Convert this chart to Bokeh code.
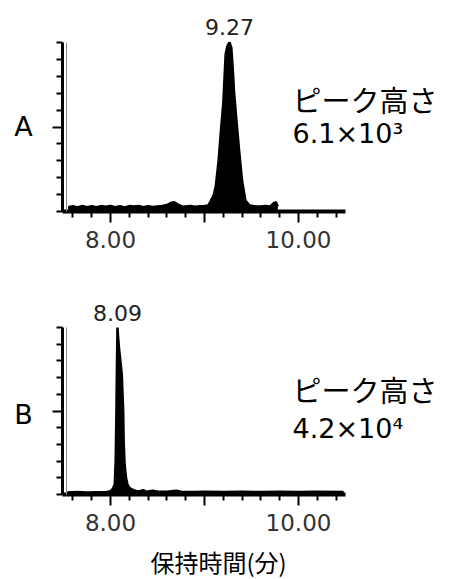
from bokeh.plotting import figure
from bokeh.models import Range1d, FixedTicker, Label, LinearAxis
from bokeh.layouts import column
from bokeh.embed import file_html
from bokeh.resources import INLINE

# ---- data (retention time in min, relative intensity in %) ----
time_a = [7.55, 7.60, 7.65, 7.70, 7.75, 7.80, 7.85, 7.90, 7.95, 8.00, 8.05, 8.10, 8.15,
          8.20, 8.25, 8.30, 8.35, 8.40, 8.45, 8.50, 8.55, 8.60, 8.64, 8.68, 8.72, 8.76,
          8.80, 8.85, 8.90, 8.95, 9.00, 9.04, 9.07, 9.10, 9.12, 9.15, 9.175, 9.20, 9.225,
          9.245, 9.266, 9.285, 9.30, 9.315, 9.34, 9.37, 9.40, 9.435, 9.48, 9.52, 9.56,
          9.60, 9.65, 9.70, 9.74, 9.76, 9.78]
inten_a = [2.5, 3.2, 2.4, 3.3, 2.6, 3.1, 2.5, 3.2, 2.8, 3.3, 2.6, 3.1, 2.4, 3.2, 2.9, 3.3,
           2.5, 3.1, 2.7, 3.0, 3.2, 3.8, 5.0, 5.5, 4.0, 3.0, 2.9, 3.2, 2.8, 3.1, 3.3, 3.5,
           6.5, 10.0, 15.0, 30.0, 48.0, 64.0, 93.0, 98.0, 100.0, 97.0, 85.0, 70.0, 54.0,
           35.0, 18.0, 6.5, 3.5, 3.2, 3.0, 2.9, 3.2, 3.0, 5.0, 5.5, 3.0]

time_b = [7.54, 7.65, 7.75, 7.85, 7.95, 8.00, 8.02, 8.045, 8.055, 8.062, 8.068, 8.074,
          8.08, 8.09, 8.105, 8.12, 8.135, 8.14, 8.15, 8.165, 8.18, 8.20, 8.23, 8.26,
          8.30, 8.35, 8.38, 8.45, 8.50, 8.60, 8.70, 8.75, 8.90, 9.00, 9.20, 9.40, 9.60,
          9.80, 10.00, 10.20, 10.48]
inten_b = [1.2, 1.5, 1.2, 1.4, 1.3, 2.0, 3.0, 6.0, 20.0, 45.0, 75.0, 100.0, 95.0, 88.0,
           80.0, 72.0, 50.0, 32.0, 18.0, 10.0, 6.0, 4.0, 3.0, 2.2, 1.8, 2.6, 1.6, 2.3,
           1.6, 1.6, 2.3, 1.6, 1.5, 1.6, 1.5, 1.6, 1.5, 1.6, 1.5, 1.6, 1.5]

peak_time_a = 9.266
peak_time_b = 8.074
peak_label_a = "9.27"
peak_label_b = "8.09"
panel_names = ["A", "B"]
height_title = "ピーク高さ"
height_values = ["6.1×10³", "4.2×10⁴"]
x_major = [8.0, 9.0, 10.0]
x_minor = [7.6, 7.8, 8.2, 8.4, 8.6, 8.8, 9.2, 9.4, 9.6, 9.8, 10.2, 10.4]
x_tick_labels = {8.0: "8.00", 9.0: "", 10.0: "10.00"}
y_major = [50]
y_minor = [0, 10, 20, 30, 40, 60, 70, 80, 90, 100]
x_title = "保持時間(分)"

NUM_FONT = "DejaVu Sans"
JP_FONT = "Noto Sans CJK JP"

W = 449
PX_PER_MIN = 94.0
X0_PX = 110.0          # pixel column of 8.00 min
X_START, X_END = 7.489, 10.5   # drawn axis extent


def make_panel(t, y, peak_t, peak_label, name, value_text, base_px, px_per_pct,
               fig_h, title_y, with_title, title_h):
    x_lo = 8.0 - X0_PX / PX_PER_MIN
    x_hi = 8.0 + (W - X0_PX) / PX_PER_MIN
    y_hi = base_px / px_per_pct
    y_lo = (base_px - fig_h) / px_per_pct
    p = figure(width=W, height=fig_h, min_border=0, title=None,
               x_range=Range1d(x_lo, x_hi), y_range=Range1d(y_lo, y_hi),
               x_axis_location=None, y_axis_location=None,
               output_backend="svg", toolbar_location=None)
    p.outline_line_color = None
    p.grid.visible = False
    p.background_fill_color = "white"
    p.border_fill_color = "white"

    # x axis
    xa = LinearAxis(fixed_location=0, bounds=(X_START, X_END))
    xa.ticker = FixedTicker(ticks=x_major, minor_ticks=x_minor)
    xa.major_label_overrides = x_tick_labels
    xa.axis_line_width = 4
    xa.axis_line_color = "black"
    xa.major_tick_out = 11
    xa.major_tick_in = 0
    xa.minor_tick_out = 6
    xa.minor_tick_in = 0
    xa.major_tick_line_width = 2
    xa.minor_tick_line_width = 2
    xa.major_label_standoff = 8
    xa.major_label_text_font = NUM_FONT
    xa.major_label_text_font_size = "23px"
    xa.major_label_text_color = "#333333"
    p.add_layout(xa, "below")

    # y axis
    ya = LinearAxis(fixed_location=X_START, bounds=(0, 100))
    ya.ticker = FixedTicker(ticks=y_major, minor_ticks=y_minor)
    ya.major_label_overrides = {50: ""}
    ya.axis_line_width = 3
    ya.axis_line_color = "black"
    ya.major_tick_out = 10
    ya.major_tick_in = 0
    ya.minor_tick_out = 6
    ya.minor_tick_in = 0
    ya.major_tick_line_width = 2
    ya.minor_tick_line_width = 2
    ya.major_label_text_font_size = "1px"
    p.add_layout(ya, "left")

    # thin grey shadow line beside the y axis
    ya2 = LinearAxis(fixed_location=X_START + 4 / PX_PER_MIN, bounds=(0, 100))
    ya2.ticker = FixedTicker(ticks=[])
    ya2.axis_line_color = "#8a8a8a"
    ya2.axis_line_width = 1
    ya2.major_tick_line_color = None
    ya2.minor_tick_line_color = None
    ya2.major_label_text_font_size = "1px"
    p.add_layout(ya2, "left")

    p.varea(x=t, y1=[0] * len(t), y2=y, fill_color="black")
    p.line(x=t, y=y, line_color="black", line_width=2.5)

    def pct(px):
        return (base_px - px) / px_per_pct

    p.add_layout(Label(x=peak_t, y=pct(title_y[0]), text=peak_label, text_align="center",
                       text_baseline="middle", text_font=NUM_FONT,
                       text_font_size="22px", text_color="#222222"))
    p.add_layout(Label(x=8.0 + (23 - X0_PX) / PX_PER_MIN, y=pct(title_y[1]), text=name,
                       text_align="center", text_baseline="middle", text_font=NUM_FONT,
                       text_font_size="27px", text_color="black"))
    tx = 8.0 + (292 - X0_PX) / PX_PER_MIN
    p.add_layout(Label(x=tx, y=pct(title_y[2]), text=height_title,
                       text_align="left", text_baseline="middle", text_font=JP_FONT,
                       text_font_size="29px", text_color="black"))
    p.add_layout(Label(x=tx, y=pct(title_y[3]), text=value_text,
                       text_align="left", text_baseline="middle", text_font=NUM_FONT,
                       text_font_size="27px", text_color="black"))
    if with_title:
        p.add_layout(Label(x=8.0 + (218 - X0_PX) / PX_PER_MIN, y=pct(title_h),
                           text=x_title, text_align="center", text_baseline="middle",
                           text_font=JP_FONT, text_font_size="24px", text_color="black"))
    return p


# panel A: baseline at pixel 211, 100 % at pixel 42; figure spans 0..290
pa = make_panel(time_a, inten_a, peak_time_a, peak_label_a, panel_names[0],
                height_values[0], 211, 1.69, 290, (26, 126, 98, 133), False, 0)
# panel B: baseline at pixel 494-290, 100 % at 327-290; figure spans 290..579
pb = make_panel(time_b, inten_b, peak_time_b, peak_label_b, panel_names[1],
                height_values[1], 204, 1.67, 289, (22, 124, 98, 138), True, 271)

layout = column(pa, pb, spacing=0)
open("out.html", "w").write(file_html(layout, INLINE))
